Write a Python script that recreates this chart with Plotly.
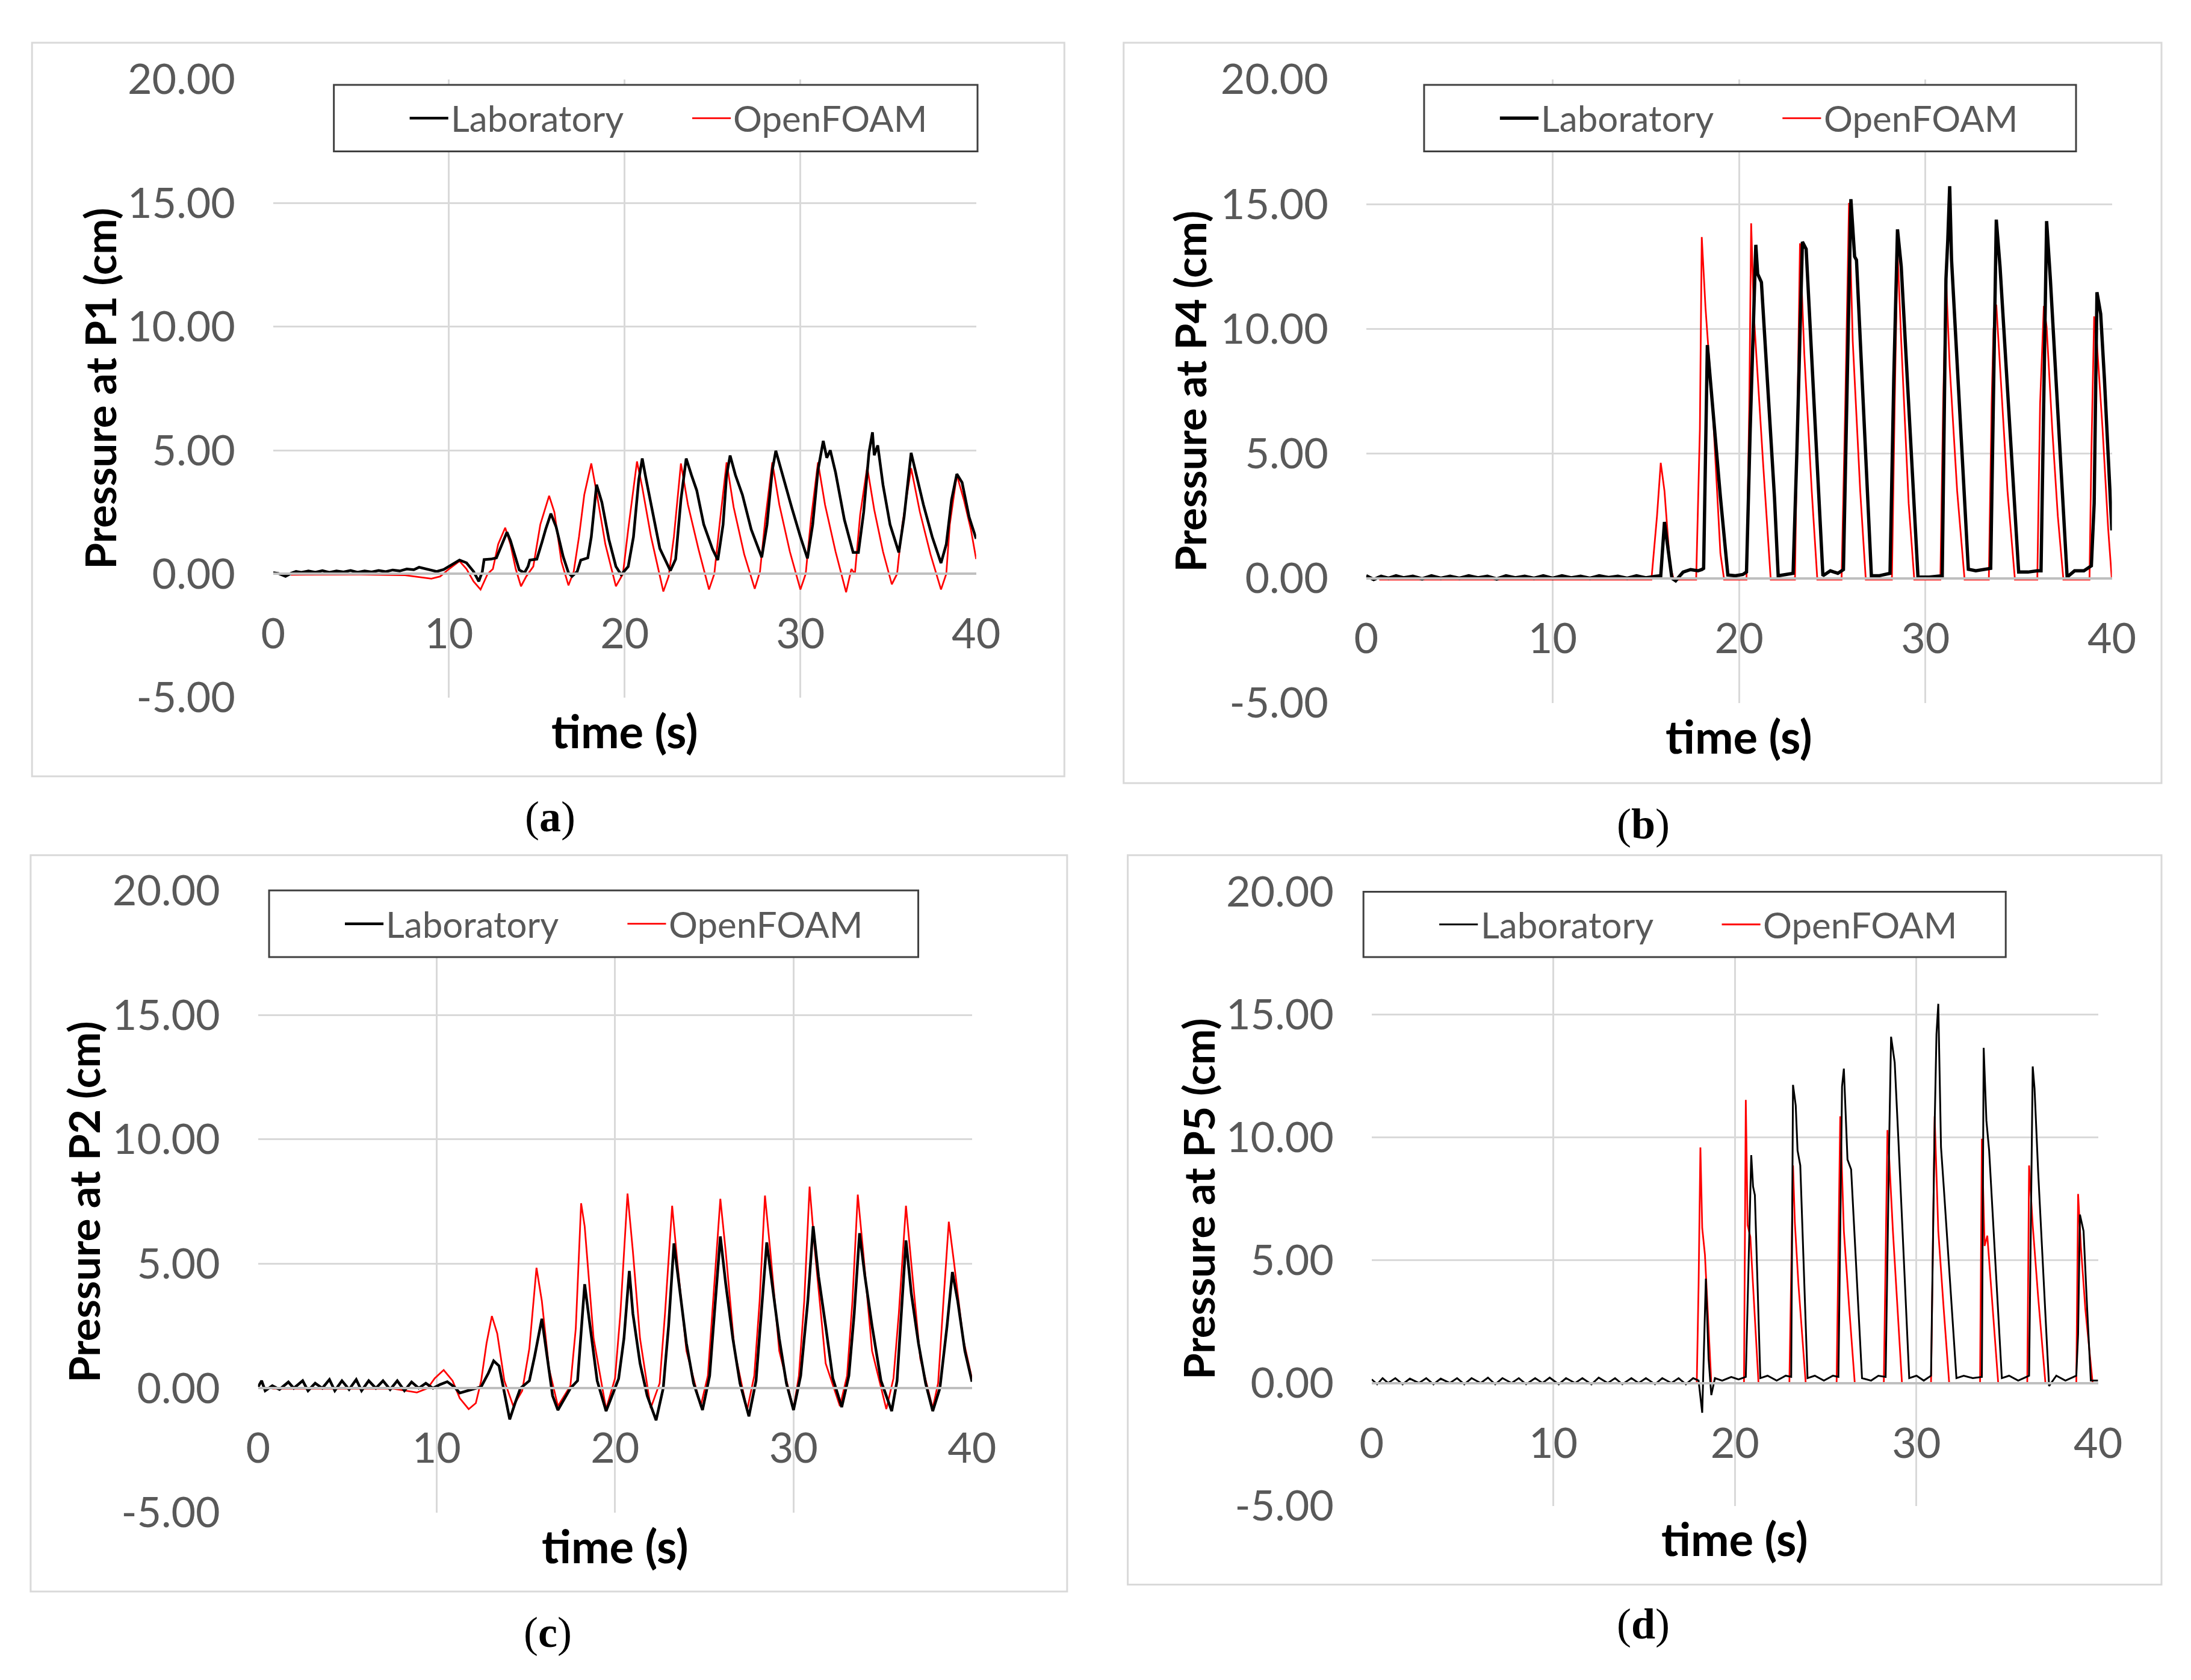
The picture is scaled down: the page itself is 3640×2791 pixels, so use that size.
import plotly.graph_objects as go

# ---- data (time in s, pressure head in cm) ----

# (a) P1
t_p1_lab = [0.0, 0.3, 0.7, 1.0, 1.3, 1.6, 2.0, 2.4, 2.8, 3.2, 3.6, 4.0, 4.4, 4.8, 5.2, 5.6, 6.0, 6.4, 6.8, 7.2,
            7.6, 8.0, 8.3, 8.6, 8.9, 9.3, 9.7, 10.1, 10.6, 11.0, 11.4, 11.7, 11.9, 12.0, 12.4, 12.7, 13.0, 13.3,
            13.5, 13.8, 14.0, 14.3, 14.5, 14.6, 15.0, 15.3, 15.5, 15.8, 16.1, 16.5, 16.8, 17.0, 17.3, 17.5, 17.9,
            18.1, 18.4, 18.7, 19.1, 19.5, 19.8, 20.2, 20.5, 20.8, 21.0, 21.2, 21.6, 22.0, 22.6, 22.9, 23.2, 23.5,
            23.8, 24.1, 24.5, 25.0, 25.3, 25.6, 25.8, 26.0, 26.3, 26.7, 27.2, 27.8, 28.1, 28.4, 28.6, 29.0, 29.5,
            30.0, 30.4, 30.7, 31.0, 31.3, 31.5, 31.7, 32.0, 32.5, 33.0, 33.3, 33.6, 33.9, 34.1, 34.2, 34.4, 34.7,
            35.1, 35.6, 35.9, 36.3, 36.6, 37.0, 37.5, 38.0, 38.3, 38.6, 38.9, 39.2, 39.6, 40.0]
p_p1_lab = [0.05, 0.02, -0.1, 0.02, 0.1, 0.06, 0.12, 0.07, 0.13, 0.06, 0.12, 0.08, 0.14, 0.07, 0.12, 0.08, 0.14,
            0.09, 0.16, 0.12, 0.2, 0.17, 0.27, 0.22, 0.18, 0.1, 0.18, 0.36, 0.56, 0.45, 0.1, -0.3, 0.1, 0.58, 0.6,
            0.65, 1.2, 1.69, 1.35, 0.6, 0.16, 0.05, 0.3, 0.56, 0.6, 1.3, 1.8, 2.44, 1.9, 0.7, 0.05, -0.1, 0.1,
            0.56, 0.65, 1.5, 3.61, 2.9, 1.4, 0.3, -0.03, 0.3, 1.5, 3.8, 4.67, 3.9, 2.4, 1.03, 0.13, 0.6, 3.0,
            4.67, 4.0, 3.38, 2.0, 1.0, 0.56, 2.0, 4.0, 4.79, 4.0, 3.2, 1.8, 0.67, 2.0, 4.2, 4.98, 3.93, 2.7, 1.5,
            0.63, 2.0, 4.2, 5.38, 4.7, 5.0, 4.1, 2.2, 0.87, 0.87, 2.5, 4.9, 5.73, 4.8, 5.2, 3.6, 2.0, 0.87, 2.3,
            4.9, 4.0, 2.8, 1.5, 0.44, 1.2, 3.0, 4.04, 3.7, 2.3, 1.42]
t_p1_of = [1.0, 3.0, 5.0, 7.5, 9.0, 9.5, 10.0, 10.6, 11.0, 11.4, 11.8, 12.2, 12.5, 12.8, 13.2, 13.5, 13.8, 14.1,
           14.4, 14.8, 15.2, 15.7, 16.0, 16.4, 16.8, 17.1, 17.4, 17.7, 18.1, 18.4, 18.9, 19.5, 19.9, 20.2, 20.7,
           21.0, 21.5, 22.2, 22.5, 22.8, 23.2, 23.6, 24.2, 24.8, 25.1, 25.4, 25.8, 26.2, 26.8, 27.4, 27.7, 28.0,
           28.4, 28.8, 29.4, 30.0, 30.3, 30.6, 31.0, 31.4, 32.0, 32.6, 32.9, 33.1, 33.4, 33.8, 34.2, 34.7, 35.2,
           35.5, 35.8, 36.3, 36.8, 37.4, 38.0, 38.3, 38.5, 38.9, 39.3, 39.7, 40.0]
p_p1_of = [-0.03, -0.02, -0.02, -0.05, -0.19, -0.1, 0.2, 0.52, 0.2, -0.3, -0.63, 0.0, 0.2, 1.2, 1.87, 1.2, 0.2,
           -0.5, -0.1, 0.3, 2.0, 3.16, 2.5, 0.5, -0.46, 0.1, 1.5, 3.2, 4.47, 3.3, 1.2, -0.5, 0.0, 1.8, 4.55, 3.5,
           1.5, -0.71, -0.1, 1.5, 4.47, 2.8, 1.0, -0.63, 0.0, 2.0, 4.51, 2.7, 0.8, -0.6, 0.1, 2.2, 4.51, 2.8, 0.9,
           -0.63, 0.0, 2.2, 4.51, 2.8, 0.9, -0.74, 0.2, 0.0, 2.4, 4.32, 2.6, 0.9, -0.42, 0.0, 2.0, 4.28, 2.5, 0.8,
           -0.63, 0.0, 2.0, 4.0, 3.0, 1.8, 0.6]

# (b) P4
t_p4_lab = [0.0, 0.4, 0.8, 1.2, 1.6, 2.0, 2.5, 3.0, 3.5, 4.0, 4.5, 5.0, 5.5, 6.0, 6.5, 7.0, 7.5, 8.0, 8.5, 9.0,
            9.5, 10.0, 10.5, 11.0, 11.5, 12.0, 12.5, 13.0, 13.5, 14.0, 14.5, 15.0, 15.5, 15.8, 16.0, 16.2, 16.4,
            16.6, 16.8, 17.0, 17.4, 17.8, 18.0, 18.1, 18.3, 18.6, 19.0, 19.4, 19.8, 20.2, 20.4, 20.6, 20.9, 21.0,
            21.2, 21.9, 22.1, 22.5, 22.9, 23.1, 23.4, 23.6, 24.3, 24.5, 24.9, 25.3, 25.6, 25.8, 26.0, 26.2, 26.3,
            27.1, 27.5, 28.1, 28.3, 28.5, 28.7, 29.6, 30.2, 30.9, 31.1, 31.2, 31.3, 31.4, 32.3, 32.7, 33.1, 33.5,
            33.8, 34.0, 35.0, 35.5, 36.0, 36.2, 36.5, 36.7, 37.6, 38.0, 38.5, 38.9, 39.05, 39.2, 39.4, 39.6, 40.0]
p_p4_lab = [0.1, -0.05, 0.08, 0.0, 0.1, 0.02, 0.08, -0.02, 0.1, 0.0, 0.08, 0.0, 0.1, 0.02, 0.08, -0.03, 0.1, 0.02,
            0.08, 0.0, 0.1, 0.0, 0.1, 0.02, 0.08, 0.0, 0.1, 0.03, 0.08, 0.0, 0.1, 0.02, 0.08, 0.1, 2.26, 1.0, 0.0,
            -0.1, 0.1, 0.25, 0.35, 0.3, 0.35, 0.4, 9.35, 6.6, 3.26, 0.13, 0.1, 0.15, 0.25, 6.0, 13.37, 12.2,
            11.87, 3.26, 0.1, 0.15, 0.2, 5.0, 13.49, 13.2, 2.7, 0.1, 0.3, 0.2, 0.35, 8.0, 15.2, 12.9, 12.76, 0.1,
            0.1, 0.2, 8.0, 13.99, 12.5, 0.05, 0.05, 0.1, 12.0, 13.6, 15.72, 12.76, 0.36, 0.3, 0.35, 0.4, 14.38,
            12.5, 0.25, 0.25, 0.3, 0.3, 14.32, 12.0, 0.05, 0.3, 0.3, 0.5, 3.0, 11.47, 10.6, 8.0, 1.92]
t_p4_of = [0.7, 15.3, 15.6, 15.8, 16.0, 16.3, 16.5, 17.7, 17.9, 18.0, 18.2, 18.6, 19.0, 19.2, 20.4, 20.55, 20.65,
           20.8, 21.3, 21.7, 23.0, 23.15, 23.27, 23.5, 23.9, 24.2, 25.5, 25.7, 25.9, 26.1, 26.5, 26.8, 28.2, 28.35,
           28.5, 28.7, 29.1, 29.4, 30.8, 30.95, 31.05, 31.1, 31.3, 31.7, 32.1, 33.4, 33.55, 33.65, 33.8, 34.0,
           34.4, 34.8, 36.0, 36.15, 36.35, 36.5, 36.8, 37.1, 37.4, 38.8, 38.9, 39.05, 39.2, 39.5, 39.8, 40.0]
p_p4_of = [-0.05, -0.05, 2.5, 4.63, 3.5, 0.5, -0.05, -0.05, 6.0, 13.68, 10.86, 6.6, 1.0, -0.05, -0.05, 7.0, 14.23,
           10.5, 4.5, -0.05, -0.05, 7.0, 13.43, 9.0, 3.5, -0.05, -0.05, 7.0, 15.05, 9.5, 3.5, -0.05, -0.05, 7.0,
           13.15, 9.5, 3.0, -0.05, -0.05, 7.0, 10.2, 12.15, 8.5, 3.5, -0.05, -0.05, 7.0, 9.97, 10.97, 8.5, 3.5,
           -0.05, -0.05, 7.0, 10.92, 10.08, 6.0, 2.5, -0.05, -0.05, 5.0, 10.5, 9.4, 6.0, 2.0, -0.05]

# (c) P2
t_p2_lab = [0.0, 0.2, 0.4, 0.8, 1.2, 1.7, 2.0, 2.5, 2.8, 3.2, 3.6, 4.0, 4.3, 4.7, 5.1, 5.5, 5.8, 6.2, 6.6, 7.0,
            7.4, 7.8, 8.2, 8.6, 9.0, 9.4, 9.8, 10.2, 10.6, 11.0, 11.3, 11.7, 12.0, 12.5, 12.9, 13.2, 13.5, 13.8,
            14.1, 14.4, 14.7, 15.2, 15.5, 15.9, 16.2, 16.5, 16.8, 17.2, 17.5, 17.9, 18.0, 18.3, 18.6, 19.0, 19.5,
            19.9, 20.2, 20.5, 20.8, 21.0, 21.4, 21.8, 22.3, 22.7, 23.0, 23.3, 23.6, 24.0, 24.4, 24.9, 25.3, 25.6,
            25.9, 26.2, 26.6, 27.0, 27.5, 27.9, 28.2, 28.5, 28.8, 29.2, 29.6, 30.0, 30.4, 30.8, 31.1, 31.4, 31.8,
            32.2, 32.7, 33.1, 33.4, 33.7, 34.0, 34.4, 34.9, 35.5, 35.8, 36.0, 36.3, 36.6, 37.0, 37.4, 37.8, 38.2,
            38.6, 38.9, 39.2, 39.6, 40.0]
p_p2_lab = [0.05, 0.3, -0.1, 0.1, -0.05, 0.25, 0.0, 0.3, -0.1, 0.2, 0.0, 0.35, -0.1, 0.3, -0.05, 0.35, -0.1, 0.3,
            0.0, 0.3, -0.05, 0.3, -0.1, 0.25, 0.0, 0.2, 0.0, 0.15, 0.26, 0.05, -0.19, -0.1, -0.05, 0.06, 0.6, 1.1,
            0.9, -0.2, -1.25, -0.6, 0.0, 0.3, 1.3, 2.79, 1.2, -0.3, -0.88, -0.4, 0.0, 0.3, 1.2, 4.18, 2.5, 0.3,
            -0.92, -0.2, 0.38, 2.0, 4.71, 3.0, 1.0, -0.3, -1.29, 0.0, 2.5, 5.82, 4.0, 1.8, 0.2, -0.88, 0.5, 3.2,
            6.1, 4.2, 2.0, 0.2, -1.13, 0.3, 3.0, 5.86, 4.2, 2.0, 0.2, -0.88, 0.5, 3.5, 6.51, 4.5, 2.5, 0.4, -0.76,
            0.5, 3.0, 6.23, 4.5, 2.5, 0.3, -0.92, 0.3, 2.5, 5.94, 3.8, 1.8, 0.2, -0.92, 0.0, 2.5, 4.67, 3.5, 1.5,
            0.26]
t_p2_of = [0.8, 4.0, 7.6, 8.9, 9.5, 9.9, 10.4, 10.9, 11.3, 11.8, 12.2, 12.5, 12.8, 13.1, 13.4, 13.8, 14.3, 14.8,
           15.2, 15.6, 15.9, 16.3, 16.8, 17.5, 17.8, 18.1, 18.3, 18.8, 19.5, 20.0, 20.3, 20.7, 21.0, 21.4, 22.0,
           22.5, 22.8, 23.2, 23.5, 24.0, 24.8, 25.2, 25.5, 25.9, 26.2, 26.7, 27.4, 27.8, 28.1, 28.4, 28.7, 29.2,
           30.0, 30.3, 30.6, 30.9, 31.2, 31.8, 32.6, 33.0, 33.3, 33.6, 33.9, 34.4, 35.2, 35.6, 35.9, 36.3, 36.6,
           37.1, 37.8, 38.1, 38.4, 38.7, 39.0, 39.5, 40.0]
p_p2_of = [-0.02, -0.02, -0.02, -0.17, 0.0, 0.4, 0.73, 0.3, -0.4, -0.84, -0.6, 0.3, 1.8, 2.9, 2.2, 0.3, -0.72,
           -0.1, 1.6, 4.84, 3.5, 0.8, -0.72, 0.1, 2.4, 7.43, 6.5, 2.0, -0.84, 0.4, 3.0, 7.82, 5.5, 2.0, -0.8, 0.2,
           3.0, 7.33, 5.0, 1.5, -0.72, 0.5, 3.5, 7.61, 5.5, 1.5, -0.88, 0.5, 3.5, 7.74, 5.5, 1.5, -0.84, 0.5, 3.5,
           8.1, 5.5, 1.0, -0.72, 0.5, 3.5, 7.78, 5.5, 1.5, -0.84, 0.4, 3.0, 7.33, 5.0, 1.2, -0.8, 0.2, 3.5, 6.69,
           5.0, 2.0, 0.38]

# (d) P5
t_p5_lab = [0.0, 0.3, 0.6, 0.9, 1.3, 1.7, 2.1, 2.6, 3.0, 3.4, 3.8, 4.3, 4.7, 5.1, 5.5, 6.0, 6.4, 6.8, 7.2, 7.7,
            8.1, 8.5, 9.0, 9.4, 9.8, 10.3, 10.7, 11.2, 11.6, 12.1, 12.5, 13.0, 13.4, 13.8, 14.3, 14.7, 15.1, 15.6,
            16.0, 16.5, 16.9, 17.3, 17.7, 18.0, 18.2, 18.4, 18.55, 18.7, 18.9, 19.3, 19.8, 20.2, 20.6, 20.8, 20.9,
            21.0, 21.1, 21.4, 21.8, 22.3, 22.8, 23.1, 23.2, 23.35, 23.45, 23.6, 24.0, 24.4, 24.9, 25.4, 25.7, 25.9,
            26.0, 26.2, 26.4, 27.0, 27.5, 27.9, 28.3, 28.5, 28.6, 28.8, 29.0, 29.6, 30.0, 30.4, 30.8, 31.0, 31.1,
            31.2, 31.35, 31.5, 32.2, 32.6, 33.1, 33.6, 33.7, 33.85, 34.0, 34.7, 35.1, 35.6, 36.2, 36.4, 36.5, 36.7,
            37.3, 37.7, 38.2, 38.8, 38.9, 39.0, 39.2, 39.4, 39.6, 40.0]
p_p5_lab = [0.15, -0.05, 0.2, 0.0, 0.2, -0.05, 0.18, 0.0, 0.2, -0.05, 0.18, 0.0, 0.2, -0.05, 0.2, 0.0, 0.22,
            -0.05, 0.2, 0.0, 0.2, -0.05, 0.2, 0.0, 0.22, -0.05, 0.2, 0.0, 0.2, -0.05, 0.22, 0.0, 0.2, -0.05, 0.2,
            0.0, 0.2, -0.05, 0.2, 0.0, 0.2, -0.05, 0.2, 0.1, -1.21, 4.25, 1.0, -0.49, 0.2, 0.1, 0.25, 0.15, 0.25,
            6.0, 9.28, 8.0, 7.65, 0.2, 0.3, 0.1, 0.3, 0.25, 12.14, 11.3, 9.47, 8.86, 0.2, 0.3, 0.1, 0.3, 0.25,
            12.07, 12.8, 9.1, 8.7, 0.2, 0.1, 0.3, 0.25, 10.0, 14.1, 13.05, 9.95, 0.2, 0.3, 0.1, 0.3, 10.5, 14.2,
            15.44, 9.6, 8.0, 0.2, 0.3, 0.2, 0.25, 13.65, 10.68, 9.47, 0.2, 0.3, 0.1, 0.3, 12.89, 12.0, 8.6, -0.12,
            0.3, 0.1, 0.3, 2.0, 6.86, 6.19, 3.0, 0.1, 0.1]
t_p5_of = [0.8, 17.9, 18.0, 18.1, 18.2, 18.35, 18.7, 20.5, 20.6, 20.7, 20.85, 21.3, 23.0, 23.2, 23.3, 23.5, 23.9,
           25.6, 25.8, 26.0, 26.3, 26.6, 28.2, 28.4, 28.5, 28.7, 29.2, 30.8, 31.0, 31.2, 31.5, 31.8, 33.5, 33.6,
           33.75, 33.9, 34.5, 36.1, 36.2, 36.4, 36.7, 37.1, 38.8, 38.9, 39.05, 39.3, 39.7, 40.0]
p_p5_of = [0.0, 0.0, 4.0, 9.59, 6.31, 5.22, 0.0, 0.0, 11.53, 6.43, 5.95, 0.0, 0.0, 8.86, 6.55, 4.0, 0.0, 0.0,
           10.86, 6.19, 3.0, 0.0, 0.0, 10.3, 9.1, 6.2, 0.0, 0.0, 10.86, 6.19, 3.0, 0.0, 0.0, 9.95, 5.58, 6.0, 0.0,
           0.0, 8.86, 6.43, 3.5, 0.0, 0.0, 7.7, 5.58, 3.0, 0.0, 0.0]

x_ticks = [0, 10, 20, 30, 40]
y_ticks = [-5, 0, 5, 10, 15, 20]
y_tick_text = ["-5.00", "0.00", "5.00", "10.00", "15.00", "20.00"]
series_names = ["Laboratory", "OpenFOAM"]

# ---- layout, measured on a 1563 x 1199 view of the reference ----
REF_W, REF_H = 1563.0, 1199.0


def fx(x):
    return x / REF_W


def fy(y):
    return 1 - y / REF_H


GRID = "#D9D9D9"
TXT = "#595959"
FONT = "Lato"

panels = [
    dict(lab=(t_p1_lab, p_p1_lab), of=(t_p1_of, p_p1_of), title="Pressure at P1 (cm)", tag="a",
         x0=186, x1=696, ytop=35, ybot=490, box=(11, 8, 760, 548), leg=(230, 39, 697, 88),
         tagxy=(387, 578), ytx=60, lw=4.5),
    dict(lab=(t_p4_lab, p_p4_lab), of=(t_p4_of, p_p4_of), title="Pressure at P4 (cm)", tag="b",
         x0=979, x1=1520, ytop=35, ybot=494, box=(803, 8, 1556, 553), leg=(1021, 39, 1494, 88),
         tagxy=(1180, 583), ytx=851, lw=5.5),
    dict(lab=(t_p2_lab, p_p2_lab), of=(t_p2_of, p_p2_of), title="Pressure at P2 (cm)", tag="c",
         x0=175, x1=693, ytop=632, ybot=1090, box=(10, 606, 762, 1148), leg=(183, 632, 654, 681),
         tagxy=(385, 1178), ytx=48, lw=4.5),
    dict(lab=(t_p5_lab, p_p5_lab), of=(t_p5_of, p_p5_of), title="Pressure at P5 (cm)", tag="d",
         x0=983, x1=1510, ytop=633, ybot=1085, box=(806, 606, 1556, 1143), leg=(977, 633, 1443, 681),
         tagxy=(1180, 1172), ytx=857, lw=3),
]

fig = go.Figure()
shapes = []
annotations = []

for i, p in enumerate(panels):
    n = "" if i == 0 else str(i + 1)
    xa, ya = "x" + n, "y" + n
    fig.add_trace(go.Scatter(x=p["of"][0], y=p["of"][1], mode="lines", name=series_names[1],
                             line=dict(color="#FF0000", width=2.8), xaxis=xa, yaxis=ya, showlegend=False))
    fig.add_trace(go.Scatter(x=p["lab"][0], y=p["lab"][1], mode="lines", name=series_names[0],
                             line=dict(color="#000000", width=p["lw"]), xaxis=xa, yaxis=ya, showlegend=False))

    ydom = [fy(p["ybot"]), fy(p["ytop"])]
    zero_pos = ydom[0] + (0 - y_ticks[0]) / (y_ticks[-1] - y_ticks[0]) * (ydom[1] - ydom[0])
    fig.update_layout({
        "xaxis" + n: dict(domain=[fx(p["x0"]), fx(p["x1"])], range=[0, 40], tickvals=x_ticks,
                          anchor="free", position=zero_pos, showgrid=True, gridcolor=GRID, gridwidth=3,
                          showline=True, linecolor="#BFBFBF", linewidth=4, zeroline=False, ticks="",
                          ticklabelstandoff=38, tickfont=dict(family=FONT, size=70, color=TXT)),
        "yaxis" + n: dict(domain=ydom, range=[-5, 20], tickvals=y_ticks, ticktext=y_tick_text,
                          anchor=xa, showgrid=True, gridcolor=GRID, gridwidth=3, zeroline=False,
                          showline=False, ticks="", ticklabelstandoff=62,
                          tickfont=dict(family=FONT, size=70, color=TXT)),
    })

    # panel frame
    bx0, by0, bx1, by1 = p["box"]
    shapes.append(dict(type="rect", xref="paper", yref="paper", x0=fx(bx0), x1=fx(bx1), y0=fy(by1), y1=fy(by0),
                       line=dict(color=GRID, width=3), layer="below"))

    # legend box with two entries
    lx0, ly0, lx1, ly1 = p["leg"]
    ly = (ly0 + ly1) / 2
    shapes.append(dict(type="rect", xref="paper", yref="paper", x0=fx(lx0), x1=fx(lx1), y0=fy(ly1), y1=fy(ly0),
                       line=dict(color="#404040", width=3), fillcolor="white", layer="above"))
    for k, (off, col, w) in enumerate([(55, "#000000", p["lw"]), (260, "#FF0000", 2.8)]):
        shapes.append(dict(type="line", xref="paper", yref="paper", x0=fx(lx0 + off), x1=fx(lx0 + off + 28),
                           y0=fy(ly), y1=fy(ly), line=dict(color=col, width=w), layer="above"))
        annotations.append(dict(text=series_names[k], xref="paper", yref="paper", x=fx(lx0 + off + 29),
                                y=fy(ly), xanchor="left", yanchor="middle", showarrow=False,
                                font=dict(family=FONT, size=60, color=TXT)))

    # axis titles
    annotations.append(dict(text="<b>" + p["title"] + "</b>", xref="paper", yref="paper", x=fx(p["ytx"]),
                            y=(ydom[0] + ydom[1]) / 2, textangle=-90, showarrow=False,
                            xanchor="center", yanchor="middle", font=dict(family=FONT, size=71, color="black")))
    annotations.append(dict(text="<b>time (s)</b>", xref="paper", yref="paper",
                            x=fx((p["x0"] + p["x1"]) / 2), y=fy(p["ybot"] + 24), showarrow=False,
                            xanchor="center", yanchor="middle", font=dict(family=FONT, size=76, color="black")))
    # panel tag
    annotations.append(dict(text="(<b>" + p["tag"] + "</b>)", xref="paper", yref="paper", x=fx(p["tagxy"][0]),
                            y=fy(p["tagxy"][1]), showarrow=False, xanchor="center", yanchor="middle",
                            font=dict(family="Liberation Serif", size=72, color="black")))

fig.update_layout(width=3640, height=2791, margin=dict(l=0, r=0, t=0, b=0),
                  paper_bgcolor="white", plot_bgcolor="white",
                  shapes=shapes, annotations=annotations, showlegend=False)

fig.write_html("out.html")
